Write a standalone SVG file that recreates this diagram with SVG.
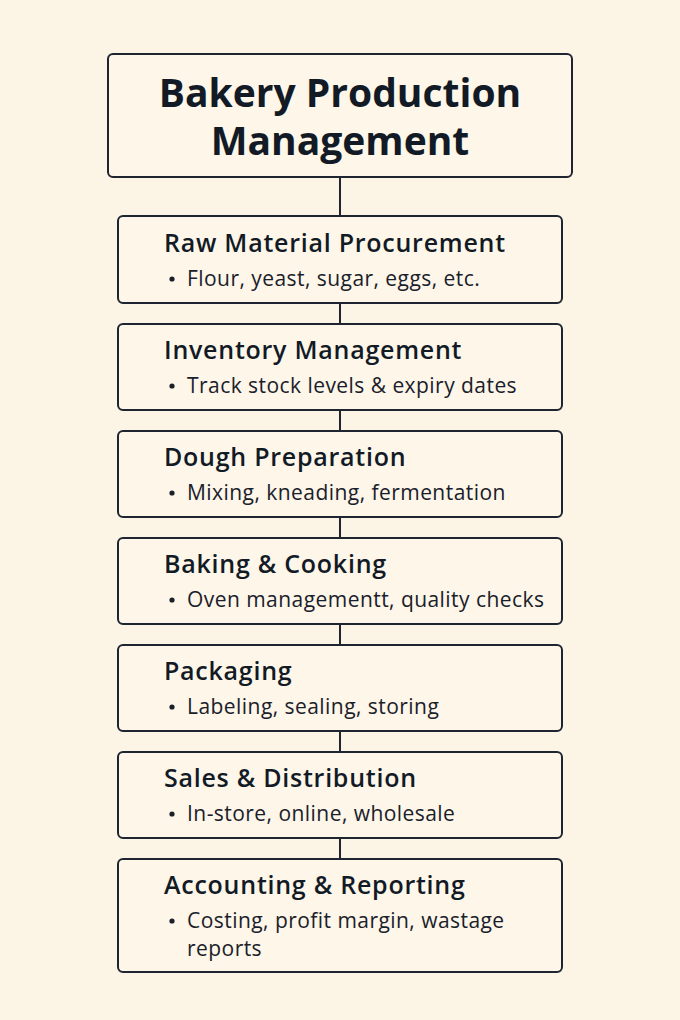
<svg xmlns="http://www.w3.org/2000/svg" width="680" height="1020" viewBox="0 0 680 1020">
<style>
.bg{fill:#fcf5e6}
.box{fill:#fdf6e9;stroke:#1f2530;stroke-width:2}
.title{font-family:"Open Sans","Noto Sans",sans-serif;font-weight:700;font-size:39px;fill:#121a26;text-anchor:middle}
.h{font-family:"Open Sans","Noto Sans",sans-serif;font-weight:600;font-size:25px;letter-spacing:0.75px;fill:#121a26}
.b{font-family:"Open Sans","Noto Sans",sans-serif;font-size:21px;letter-spacing:0.45px;fill:#1a2029}
.dot{fill:#1a2029}
.conn line{stroke:#1f2530;stroke-width:2}
</style>
<rect class="bg" x="0" y="0" width="680" height="1020"/>
<g id="connectors" class="conn">
<line x1="340" y1="177" x2="340" y2="216"/>
<line x1="340" y1="303" x2="340" y2="324"/>
<line x1="340" y1="410" x2="340" y2="431"/>
<line x1="340" y1="517" x2="340" y2="538"/>
<line x1="340" y1="624" x2="340" y2="645"/>
<line x1="340" y1="731" x2="340" y2="752"/>
<line x1="340" y1="838" x2="340" y2="859"/>
</g>
<g id="title">
<rect class="box" x="108" y="54" width="464" height="123" rx="5"/>
<text class="title" x="340" y="107">Bakery Production</text>
<text class="title" x="340" y="155">Management</text>
</g>
<g id="raw-material">
<rect class="box" x="118" y="216" width="444" height="87" rx="5"/>
<text class="h" x="164" y="252">Raw Material Procurement</text>
<circle class="dot" cx="172" cy="279" r="2.6"/>
<text class="b" x="187" y="286">Flour, yeast, sugar, eggs, etc.</text>
</g>
<g id="inventory">
<rect class="box" x="118" y="324" width="444" height="86" rx="5"/>
<text class="h" x="164" y="359">Inventory Management</text>
<circle class="dot" cx="172" cy="386" r="2.6"/>
<text class="b" x="187" y="393">Track stock levels &amp; expiry dates</text>
</g>
<g id="dough">
<rect class="box" x="118" y="431" width="444" height="86" rx="5"/>
<text class="h" x="164" y="466">Dough Preparation</text>
<circle class="dot" cx="172" cy="493" r="2.6"/>
<text class="b" x="187" y="500">Mixing, kneading, fermentation</text>
</g>
<g id="baking">
<rect class="box" x="118" y="538" width="444" height="86" rx="5"/>
<text class="h" x="164" y="573">Baking &amp; Cooking</text>
<circle class="dot" cx="172" cy="600" r="2.6"/>
<text class="b" x="187" y="607">Oven managementt, quality checks</text>
</g>
<g id="packaging">
<rect class="box" x="118" y="645" width="444" height="86" rx="5"/>
<text class="h" x="164" y="680">Packaging</text>
<circle class="dot" cx="172" cy="707" r="2.6"/>
<text class="b" x="187" y="714">Labeling, sealing, storing</text>
</g>
<g id="sales">
<rect class="box" x="118" y="752" width="444" height="86" rx="5"/>
<text class="h" x="164" y="787">Sales &amp; Distribution</text>
<circle class="dot" cx="172" cy="814" r="2.6"/>
<text class="b" x="187" y="821">In-store, online, wholesale</text>
</g>
<g id="accounting">
<rect class="box" x="118" y="859" width="444" height="113" rx="5"/>
<text class="h" x="164" y="894">Accounting &amp; Reporting</text>
<circle class="dot" cx="172" cy="921" r="2.6"/>
<text class="b" x="187" y="928">Costing, profit margin, wastage</text>
<text class="b" x="187" y="956">reports</text>
</g>
</svg>
